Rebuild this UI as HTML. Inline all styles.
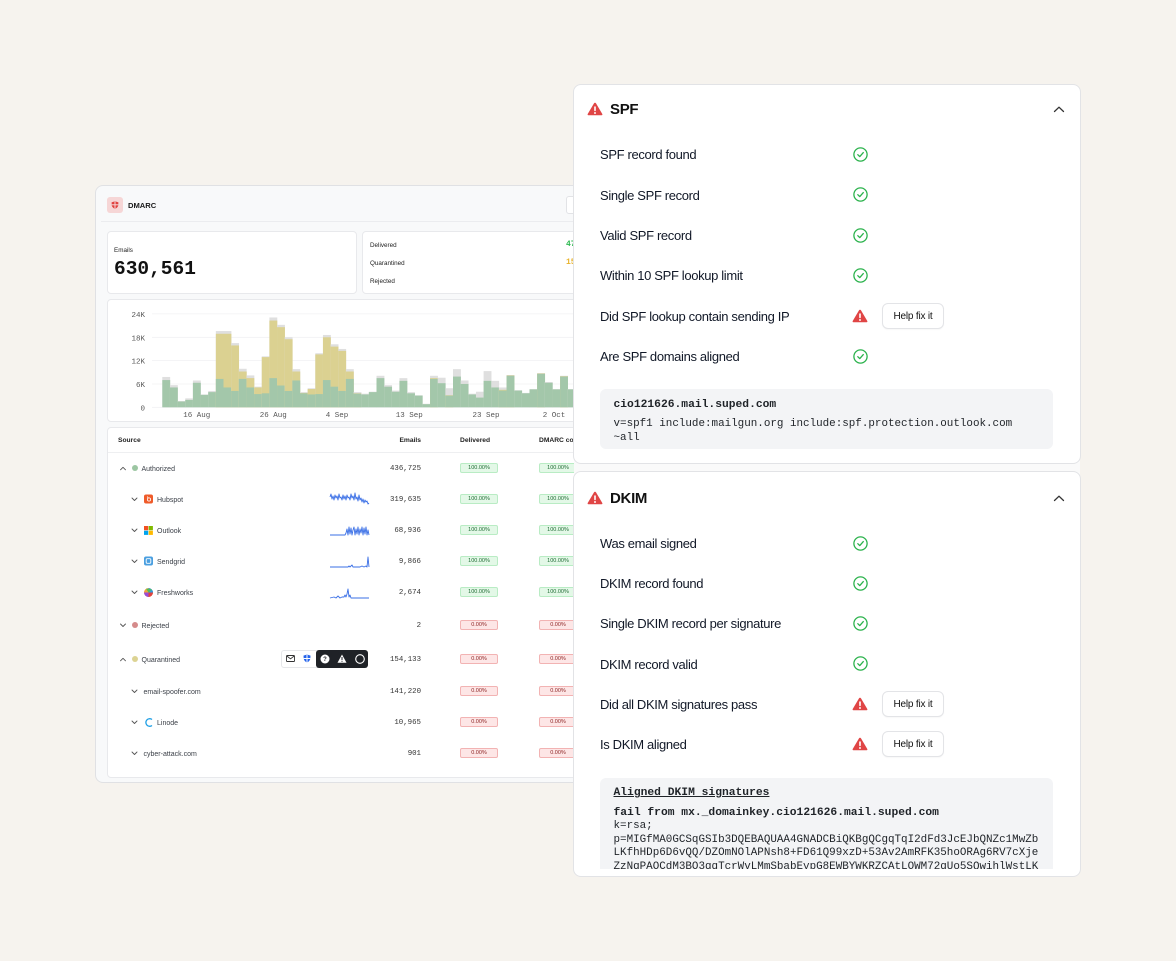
<!DOCTYPE html>
<html><head><meta charset="utf-8">
<style>
*{margin:0;padding:0;box-sizing:border-box}
html,body{width:1176px;height:961px;overflow:hidden;background:#f6f3ee}
body{font-family:"Liberation Sans",Arial,sans-serif;color:#111827}
#root{position:relative;width:1176px;height:961px;overflow:hidden;background:#f6f3ee}
.a{position:absolute}
.t{position:absolute;white-space:nowrap}
.card{position:absolute;background:#fff;border:1px solid #e8e9ec;border-radius:4px}
.lt{font-size:7px;line-height:10px;color:#3a3f47}
.num{font-family:"Liberation Mono",monospace;font-size:7.4px;line-height:10px;color:#333;text-align:right;width:80px}
.bg{position:absolute;width:38px;height:10px;border-radius:2px;font-size:5.5px;line-height:9px;text-align:center}
.bgG{background:#e3f8e7;border:1px solid #b9ecc4;color:#1f6b33}
.bgR{background:#fde6e6;border:1px solid #f2b3b3;color:#8a1f1f}
.dot{position:absolute;width:6px;height:6px;border-radius:50%}
.rt{font-size:13px;line-height:16px;letter-spacing:-0.35px;color:#111827}
.help{position:absolute;width:62px;height:26px;border:1px solid #e3e4e7;border-radius:6px;background:#fff;font-size:10px;line-height:24px;padding-top:1px;text-align:center;color:#111;letter-spacing:-0.2px;box-shadow:0 1px 1px rgba(0,0,0,0.03)}
.mono{font-family:"Liberation Mono",monospace;color:#1f2328}
.icn{position:absolute}
</style></head><body><div id="root">

<!-- LEFT PANEL -->
<div class="a" style="left:95px;top:185px;width:520px;height:598px;background:#f8f9fa;border:1px solid #e0e1e4;border-radius:8px"></div>
<div class="a" style="left:101px;top:221px;width:500px;height:1px;background:#ebecef"></div>
<div class="a" style="left:107px;top:197px;width:16px;height:16px;background:#f6d6d6;border-radius:3px"></div>
<svg class="icn" style="left:111px;top:201px" width="8" height="8" viewBox="0 0 8 8"><path d="M4 0.3 L7.4 1.4 L7.2 4.6 Q6.6 6.8 4 7.8 Q1.4 6.8 0.8 4.6 L0.6 1.4Z" fill="#e0403e"/><rect x="3.5" y="0.5" width="1" height="7" fill="#f6d6d6"/><rect x="0.6" y="3.3" width="6.8" height="1" fill="#f6d6d6"/></svg>
<div class="t" style="left:128px;top:201px;font-size:7.6px;line-height:10px;font-weight:bold;color:#1a1a1a">DMARC</div>
<div class="a" style="left:566px;top:196px;width:20px;height:18px;border:1px solid #e2e3e6;border-radius:3px;background:#fff"></div>

<!-- emails card -->
<div class="card" style="left:107px;top:231px;width:250px;height:63px"></div>
<div class="t" style="left:114px;top:246px;font-size:6.3px;line-height:9px;color:#222">Emails</div>
<div class="t mono" style="left:114px;top:258px;font-size:19.5px;line-height:22px;font-weight:bold;color:#111">630,561</div>

<!-- summary card -->
<div class="card" style="left:362px;top:231px;width:240px;height:63px"></div>
<div class="t" style="left:370px;top:240.5px;font-size:6.3px;line-height:9px;color:#222">Delivered</div>
<div class="t" style="left:370px;top:258.5px;font-size:6.3px;line-height:9px;color:#222">Quarantined</div>
<div class="t" style="left:370px;top:276.5px;font-size:6.3px;line-height:9px;color:#222">Rejected</div>
<div class="t" style="left:566px;top:239px;font-size:8px;line-height:11px;color:#2cb84f;font-family:'Liberation Mono',monospace;font-weight:bold">47.6%</div>
<div class="t" style="left:566px;top:257px;font-size:8px;line-height:11px;color:#e8b22a;font-family:'Liberation Mono',monospace;font-weight:bold">15.2%</div>

<!-- chart card -->
<div class="card" style="left:107px;top:299px;width:495px;height:123px"></div>
<svg class="a" style="left:0;top:0" width="600" height="430" viewBox="0 0 600 430">
<style>.gt{fill:#dfdfdf}.gy{fill:#dbd191}.gg{fill:#a3c7aa}.yl{font-family:"Liberation Mono",monospace;font-size:7.5px;fill:#555}</style>
<g stroke="#f1f1f3" stroke-width="0.8">
<line x1="152" y1="313.9" x2="600" y2="313.9"/><line x1="152" y1="337.3" x2="600" y2="337.3"/><line x1="152" y1="360.6" x2="600" y2="360.6"/><line x1="152" y1="384" x2="600" y2="384"/><line x1="152" y1="407.3" x2="600" y2="407.3"/>
</g>
<text class="yl" x="145" y="317" text-anchor="end">24K</text>
<text class="yl" x="145" y="340.4" text-anchor="end">18K</text>
<text class="yl" x="145" y="363.7" text-anchor="end">12K</text>
<text class="yl" x="145" y="387.1" text-anchor="end">6K</text>
<text class="yl" x="145" y="410.4" text-anchor="end">0</text>
<text class="yl" x="196.7" y="417" text-anchor="middle">16 Aug</text>
<text class="yl" x="273.3" y="417" text-anchor="middle">26 Aug</text>
<text class="yl" x="337" y="417" text-anchor="middle">4 Sep</text>
<text class="yl" x="409.3" y="417" text-anchor="middle">13 Sep</text>
<text class="yl" x="486" y="417" text-anchor="middle">23 Sep</text>
<text class="yl" x="554" y="417" text-anchor="middle">2 Oct</text>
<g transform="translate(162.3 407.3) scale(7.65 -3.89)">
<rect class="gt" x="0" y="0" width="1.03" height="7.8"/><rect class="gg" x="0" y="0" width="1.03" height="7.0"/>
<rect class="gt" x="1" y="0" width="1.03" height="5.7"/><rect class="gg" x="1" y="0" width="1.03" height="5.1"/>
<rect class="gt" x="2" y="0" width="1.03" height="1.6"/><rect class="gg" x="2" y="0" width="1.03" height="1.5"/>
<rect class="gt" x="3" y="0" width="1.03" height="2.3"/><rect class="gg" x="3" y="0" width="1.03" height="1.9"/>
<rect class="gt" x="4" y="0" width="1.03" height="6.9"/><rect class="gg" x="4" y="0" width="1.03" height="6.3"/>
<rect class="gt" x="5" y="0" width="1.03" height="3.3"/><rect class="gg" x="5" y="0" width="1.03" height="3.2"/>
<rect class="gt" x="6" y="0" width="1.03" height="4.2"/><rect class="gg" x="6" y="0" width="1.03" height="3.9"/>
<rect class="gt" x="7" y="0" width="1.03" height="19.6"/><rect class="gy" x="7" y="0" width="1.03" height="18.9"/><rect class="gg" x="7" y="0" width="1.03" height="7.3"/>
<rect class="gt" x="8" y="0" width="1.03" height="19.6"/><rect class="gy" x="8" y="0" width="1.03" height="18.9"/><rect class="gg" x="8" y="0" width="1.03" height="5.1"/>
<rect class="gt" x="9" y="0" width="1.03" height="16.5"/><rect class="gy" x="9" y="0" width="1.03" height="15.9"/><rect class="gg" x="9" y="0" width="1.03" height="4.2"/>
<rect class="gt" x="10" y="0" width="1.03" height="9.9"/><rect class="gy" x="10" y="0" width="1.03" height="9.2"/><rect class="gg" x="10" y="0" width="1.03" height="7.3"/>
<rect class="gt" x="11" y="0" width="1.03" height="8.2"/><rect class="gy" x="11" y="0" width="1.03" height="7.5"/><rect class="gg" x="11" y="0" width="1.03" height="5.1"/>
<rect class="gt" x="12" y="0" width="1.03" height="5.3"/><rect class="gy" x="12" y="0" width="1.03" height="5.1"/><rect class="gg" x="12" y="0" width="1.03" height="3.4"/>
<rect class="gt" x="13" y="0" width="1.03" height="13.1"/><rect class="gy" x="13" y="0" width="1.03" height="12.9"/><rect class="gg" x="13" y="0" width="1.03" height="3.6"/>
<rect class="gt" x="14" y="0" width="1.03" height="23.1"/><rect class="gy" x="14" y="0" width="1.03" height="22.3"/><rect class="gg" x="14" y="0" width="1.03" height="7.5"/>
<rect class="gt" x="15" y="0" width="1.03" height="21.2"/><rect class="gy" x="15" y="0" width="1.03" height="20.6"/><rect class="gg" x="15" y="0" width="1.03" height="5.6"/>
<rect class="gt" x="16" y="0" width="1.03" height="18.0"/><rect class="gy" x="16" y="0" width="1.03" height="17.5"/><rect class="gg" x="16" y="0" width="1.03" height="4.2"/>
<rect class="gt" x="17" y="0" width="1.03" height="9.8"/><rect class="gy" x="17" y="0" width="1.03" height="9.2"/><rect class="gg" x="17" y="0" width="1.03" height="6.9"/>
<rect class="gt" x="18" y="0" width="1.03" height="3.9"/><rect class="gy" x="18" y="0" width="1.03" height="3.7"/><rect class="gg" x="18" y="0" width="1.03" height="3.6"/>
<rect class="gt" x="19" y="0" width="1.03" height="4.9"/><rect class="gy" x="19" y="0" width="1.03" height="4.7"/><rect class="gg" x="19" y="0" width="1.03" height="3.3"/>
<rect class="gt" x="20" y="0" width="1.03" height="13.9"/><rect class="gy" x="20" y="0" width="1.03" height="13.6"/><rect class="gg" x="20" y="0" width="1.03" height="3.4"/>
<rect class="gt" x="21" y="0" width="1.03" height="18.6"/><rect class="gy" x="21" y="0" width="1.03" height="18.0"/><rect class="gg" x="21" y="0" width="1.03" height="7.0"/>
<rect class="gt" x="22" y="0" width="1.03" height="16.2"/><rect class="gy" x="22" y="0" width="1.03" height="15.6"/><rect class="gg" x="22" y="0" width="1.03" height="5.3"/>
<rect class="gt" x="23" y="0" width="1.03" height="15.0"/><rect class="gy" x="23" y="0" width="1.03" height="14.5"/><rect class="gg" x="23" y="0" width="1.03" height="4.2"/>
<rect class="gt" x="24" y="0" width="1.03" height="9.8"/><rect class="gy" x="24" y="0" width="1.03" height="9.2"/><rect class="gg" x="24" y="0" width="1.03" height="7.3"/>
<rect class="gt" x="25" y="0" width="1.03" height="3.9"/><rect class="gy" x="25" y="0" width="1.03" height="3.6"/><rect class="gg" x="25" y="0" width="1.03" height="3.5"/>
<rect class="gt" x="26" y="0" width="1.03" height="3.5"/><rect class="gg" x="26" y="0" width="1.03" height="3.3"/>
<rect class="gt" x="27" y="0" width="1.03" height="4.0"/><rect class="gg" x="27" y="0" width="1.03" height="3.9"/>
<rect class="gt" x="28" y="0" width="1.03" height="8.1"/><rect class="gg" x="28" y="0" width="1.03" height="7.5"/>
<rect class="gt" x="29" y="0" width="1.03" height="5.7"/><rect class="gg" x="29" y="0" width="1.03" height="5.3"/>
<rect class="gt" x="30" y="0" width="1.03" height="4.3"/><rect class="gg" x="30" y="0" width="1.03" height="4.0"/>
<rect class="gt" x="31" y="0" width="1.03" height="7.5"/><rect class="gg" x="31" y="0" width="1.03" height="6.8"/>
<rect class="gt" x="32" y="0" width="1.03" height="3.9"/><rect class="gg" x="32" y="0" width="1.03" height="3.6"/>
<rect class="gt" x="33" y="0" width="1.03" height="3.1"/><rect class="gg" x="33" y="0" width="1.03" height="3.0"/>
<rect class="gt" x="34" y="0" width="1.03" height="0.9"/><rect class="gg" x="34" y="0" width="1.03" height="0.8"/>
<rect class="gt" x="35" y="0" width="1.03" height="8.1"/><rect class="gy" x="35" y="0" width="1.03" height="7.5"/><rect class="gg" x="35" y="0" width="1.03" height="7.3"/>
<rect class="gt" x="36" y="0" width="1.03" height="7.6"/><rect class="gg" x="36" y="0" width="1.03" height="6.2"/>
<rect class="gt" x="37" y="0" width="1.03" height="4.9"/><rect class="gy" x="37" y="0" width="1.03" height="3.1"/><rect class="gg" x="37" y="0" width="1.03" height="3.0"/>
<rect class="gt" x="38" y="0" width="1.03" height="9.8"/><rect class="gg" x="38" y="0" width="1.03" height="7.9"/>
<rect class="gt" x="39" y="0" width="1.03" height="6.9"/><rect class="gg" x="39" y="0" width="1.03" height="6.0"/>
<rect class="gt" x="40" y="0" width="1.03" height="3.5"/><rect class="gg" x="40" y="0" width="1.03" height="3.3"/>
<rect class="gt" x="41" y="0" width="1.03" height="4.0"/><rect class="gg" x="41" y="0" width="1.03" height="2.5"/>
<rect class="gt" x="42" y="0" width="1.03" height="9.3"/><rect class="gg" x="42" y="0" width="1.03" height="6.8"/>
<rect class="gt" x="43" y="0" width="1.03" height="6.8"/><rect class="gg" x="43" y="0" width="1.03" height="5.1"/>
<rect class="gt" x="44" y="0" width="1.03" height="5.1"/><rect class="gy" x="44" y="0" width="1.03" height="4.5"/><rect class="gg" x="44" y="0" width="1.03" height="4.3"/>
<rect class="gt" x="45" y="0" width="1.03" height="8.3"/><rect class="gy" x="45" y="0" width="1.03" height="8.2"/><rect class="gg" x="45" y="0" width="1.03" height="8.1"/>
<rect class="gt" x="46" y="0" width="1.03" height="4.4"/><rect class="gg" x="46" y="0" width="1.03" height="4.3"/>
<rect class="gt" x="47" y="0" width="1.03" height="3.7"/><rect class="gg" x="47" y="0" width="1.03" height="3.6"/>
<rect class="gt" x="48" y="0" width="1.03" height="4.7"/><rect class="gg" x="48" y="0" width="1.03" height="4.6"/>
<rect class="gt" x="49" y="0" width="1.03" height="8.8"/><rect class="gy" x="49" y="0" width="1.03" height="8.7"/><rect class="gg" x="49" y="0" width="1.03" height="8.6"/>
<rect class="gt" x="50" y="0" width="1.03" height="6.5"/><rect class="gg" x="50" y="0" width="1.03" height="6.3"/>
<rect class="gt" x="51" y="0" width="1.03" height="4.7"/><rect class="gg" x="51" y="0" width="1.03" height="4.6"/>
<rect class="gt" x="52" y="0" width="1.03" height="8.1"/><rect class="gy" x="52" y="0" width="1.03" height="8.0"/><rect class="gg" x="52" y="0" width="1.03" height="7.9"/>
<rect class="gt" x="53" y="0" width="1.03" height="4.7"/><rect class="gg" x="53" y="0" width="1.03" height="4.6"/>
<rect class="gt" x="54" y="0" width="1.03" height="5.0"/><rect class="gg" x="54" y="0" width="1.03" height="4.8"/>
</g>
</svg>

<!-- table card -->
<div class="card" style="left:107px;top:427px;width:495px;height:351px"></div>
<div class="t" style="left:118px;top:436px;font-size:6.7px;line-height:10px;font-weight:bold;color:#222">Source</div>
<div class="t" style="left:341px;top:436px;width:80px;text-align:right;font-size:6.7px;line-height:10px;font-weight:bold;color:#222">Emails</div>
<div class="t" style="left:460px;top:436px;font-size:6.7px;line-height:10px;font-weight:bold;color:#222">Delivered</div>
<div class="t" style="left:539px;top:436px;font-size:6.7px;line-height:10px;font-weight:bold;color:#222">DMARC compliant</div>
<div class="a" style="left:108px;top:452px;width:494px;height:1px;background:#eeeff1"></div>

<!-- chevrons & rows -->
<svg class="a" style="left:0;top:0" width="600" height="790" viewBox="0 0 600 790">
<g fill="none" stroke="#555" stroke-width="0.9" stroke-linecap="round" stroke-linejoin="round">
<polyline points="120.5,469.8 123,467.3 125.5,469.8"/>
<polyline points="132,498 134.5,500.5 137,498"/>
<polyline points="132,529 134.5,531.5 137,529"/>
<polyline points="132,560 134.5,562.5 137,560"/>
<polyline points="132,591 134.5,593.5 137,591"/>
<polyline points="120.5,624 123,626.5 125.5,624"/>
<polyline points="120.5,660.8 123,658.3 125.5,660.8"/>
<polyline points="132,690 134.5,692.5 137,690"/>
<polyline points="132,721 134.5,723.5 137,721"/>
<polyline points="132,752 134.5,754.5 137,752"/>
</g>
<g fill="none" stroke="#3a6fe6" stroke-width="0.9" stroke-linejoin="round">
<polyline points="330,497 331,494 332,499 333,496 334,500 335,495 336,498 337,496 338,500 339,494 340,498 341,497 342,500 343,495 344,499 345,496 346,500 347,495 348,498 349,497 350,500 351,494 352,498 353,496 354,500 355,493 356,499 357,497 358,501 359,495 360,500 361,498 362,502 363,499 364,503 365,500 366,502 367,501 368,504 369,503"/>
<polyline points="330,535 345,535 346,533 347,529 348,535 349,527 350,534 351,528 352,535 353,530 354,527 355,535 356,529 357,534 358,527 359,535 360,529 361,533 362,527 363,535 364,528 365,534 366,527 367,535 368,530 369,535"/>
<polyline points="330,567 348,567 349,566 350,567 352,565 353,567 360,567 362,566 364,567 366,566 367,567 368,557 369,567"/>
<polyline points="330,598 334,597 336,598 338,596 340,598 342,597 344,597 345,595 346,597 347,594 348,589 349,597 350,595 351,598 369,598"/>
</g>
<!-- hubspot -->
<rect x="144" y="494.5" width="9" height="9" rx="2" fill="#ef5b2a"/>
<circle cx="149" cy="499.5" r="1.6" fill="none" stroke="#fff" stroke-width="0.8"/><line x1="147.3" y1="496.5" x2="148.3" y2="498.3" stroke="#fff" stroke-width="0.8"/>
<!-- outlook -->
<rect x="144" y="526" width="4.2" height="4.2" fill="#f25022"/><rect x="148.7" y="526" width="4.2" height="4.2" fill="#7fba00"/><rect x="144" y="530.7" width="4.2" height="4.2" fill="#00a4ef"/><rect x="148.7" y="530.7" width="4.2" height="4.2" fill="#ffb900"/>
<!-- sendgrid -->
<rect x="144" y="556.5" width="9" height="9" rx="2" fill="#4a9fe0"/><rect x="146.2" y="558.7" width="4.6" height="4.6" rx="1" fill="none" stroke="#fff" stroke-width="0.9"/>
<!-- freshworks -->
<circle cx="148.5" cy="592.5" r="4.5" fill="#f0a33a"/><path d="M148.5 592.5 L148.5 588 A4.5 4.5 0 0 1 153 592.5Z" fill="#2f9be0"/><path d="M148.5 592.5 L144 592.5 A4.5 4.5 0 0 0 148.5 597Z" fill="#9a4bd6"/><path d="M148.5 592.5 L153 592.5 A4.5 4.5 0 0 1 148.5 597Z" fill="#e2433f"/><path d="M148.5 592.5 L146 588.5 L152 589.5Z" fill="#4cbf5a"/>
<!-- linode -->
<path d="M152 719.5 A3.8 3.8 0 1 0 152 725.5" fill="none" stroke="#1f9fe5" stroke-width="1.3"/>
</svg>

<div class="dot" style="left:131.7px;top:465px;background:#9cc6a2"></div>
<div class="dot" style="left:131.7px;top:622px;background:#d58b8b"></div>
<div class="dot" style="left:131.7px;top:656px;background:#dcd393"></div>

<div class="t lt" style="left:141.5px;top:464.5px">Authorized</div>
<div class="t lt" style="left:157px;top:495.5px">Hubspot</div>
<div class="t lt" style="left:157px;top:526.5px">Outlook</div>
<div class="t lt" style="left:157px;top:557.5px">Sendgrid</div>
<div class="t lt" style="left:157px;top:588.5px">Freshworks</div>
<div class="t lt" style="left:141.5px;top:621.5px">Rejected</div>
<div class="t lt" style="left:141.5px;top:655.5px">Quarantined</div>
<div class="t lt" style="left:143.5px;top:687.5px">email-spoofer.com</div>
<div class="t lt" style="left:157px;top:718.5px">Linode</div>
<div class="t lt" style="left:143.5px;top:749.5px">cyber-attack.com</div>

<div class="t num" style="left:341px;top:464px">436,725</div>
<div class="t num" style="left:341px;top:495px">319,635</div>
<div class="t num" style="left:341px;top:526px">68,936</div>
<div class="t num" style="left:341px;top:557px">9,866</div>
<div class="t num" style="left:341px;top:588px">2,674</div>
<div class="t num" style="left:341px;top:621px">2</div>
<div class="t num" style="left:341px;top:655px">154,133</div>
<div class="t num" style="left:341px;top:687px">141,220</div>
<div class="t num" style="left:341px;top:718px">10,965</div>
<div class="t num" style="left:341px;top:749px">901</div>

<div class="bg bgG" style="left:460px;top:463px">100.00%</div><div class="bg bgG" style="left:539px;top:463px">100.00%</div>
<div class="bg bgG" style="left:460px;top:494px">100.00%</div><div class="bg bgG" style="left:539px;top:494px">100.00%</div>
<div class="bg bgG" style="left:460px;top:525px">100.00%</div><div class="bg bgG" style="left:539px;top:525px">100.00%</div>
<div class="bg bgG" style="left:460px;top:556px">100.00%</div><div class="bg bgG" style="left:539px;top:556px">100.00%</div>
<div class="bg bgG" style="left:460px;top:587px">100.00%</div><div class="bg bgG" style="left:539px;top:587px">100.00%</div>
<div class="bg bgR" style="left:460px;top:620px">0.00%</div><div class="bg bgR" style="left:539px;top:620px">0.00%</div>
<div class="bg bgR" style="left:460px;top:654px">0.00%</div><div class="bg bgR" style="left:539px;top:654px">0.00%</div>
<div class="bg bgR" style="left:460px;top:686px">0.00%</div><div class="bg bgR" style="left:539px;top:686px">0.00%</div>
<div class="bg bgR" style="left:460px;top:717px">0.00%</div><div class="bg bgR" style="left:539px;top:717px">0.00%</div>
<div class="bg bgR" style="left:460px;top:748px">0.00%</div><div class="bg bgR" style="left:539px;top:748px">0.00%</div>

<!-- toolbar -->
<div class="a" style="left:281px;top:650px;width:40px;height:18px;background:#fff;border:1px solid #e6e7ea;border-radius:3px"></div>
<div class="a" style="left:316px;top:650px;width:52px;height:18px;background:#1f2227;border-radius:3px"></div>
<svg class="a" style="left:281px;top:650px" width="88" height="18" viewBox="0 0 88 18">
<rect x="5.5" y="5.5" width="8" height="6" rx="0.8" fill="none" stroke="#333" stroke-width="0.9"/><polyline points="5.8,6 9.5,8.8 13.2,6" fill="none" stroke="#333" stroke-width="0.9"/>
<path d="M26 4.5 L29.5 5.6 L29.3 8.8 Q28.7 11.3 26 12.6 Q23.3 11.3 22.7 8.8 L22.5 5.6Z" fill="#2563eb"/><rect x="25.5" y="4.7" width="1" height="8" fill="#fff"/><rect x="22.6" y="8" width="6.8" height="1" fill="#fff"/>
<circle cx="44" cy="9" r="4.5" fill="#fff"/><text x="44" y="11" font-size="6" text-anchor="middle" font-family="Liberation Sans" font-weight="bold" fill="#1f2227">?</text>
<path d="M61 4.5 L65.5 12.8 L56.5 12.8Z" fill="#fff"/><rect x="60.5" y="7" width="1" height="3" fill="#1f2227"/><rect x="60.5" y="10.8" width="1" height="1" fill="#1f2227"/>
<circle cx="79" cy="9" r="4.3" fill="none" stroke="#fff" stroke-width="1.1"/>
</svg>

<!-- RIGHT PANEL -->
<div class="a" style="left:574px;top:90px;width:506px;height:780px;background:#fafafa"></div>
<div class="a" style="left:573px;top:84px;width:508px;height:380px;background:#fff;border:1px solid #e2e3e6;border-radius:8px"></div>
<div class="a" style="left:573px;top:471px;width:508px;height:406px;background:#fff;border:1px solid #e2e3e6;border-radius:8px"></div>

<!-- SPF header -->
<svg class="icn" style="left:587px;top:101.5px" width="16" height="14" viewBox="0 0 16 14"><path d="M8 0.8 Q8.7 0.8 9.1 1.5 L15.3 12 Q15.7 13.2 14.6 13.2 L1.4 13.2 Q0.3 13.2 0.7 12 L6.9 1.5 Q7.3 0.8 8 0.8Z" fill="#e04545"/><rect x="7.2" y="4.2" width="1.6" height="5" rx="0.8" fill="#fff"/><circle cx="8" cy="11" r="0.95" fill="#fff"/></svg>
<div class="t" style="left:610px;top:100.5px;font-size:15px;line-height:18px;font-weight:bold;letter-spacing:-0.3px;color:#111">SPF</div>
<svg class="icn" style="left:1053px;top:105.5px" width="12" height="7" viewBox="0 0 12 7"><polyline points="1.5,5.5 6,1.2 10.5,5.5" fill="none" stroke="#333" stroke-width="1.3" stroke-linecap="round" stroke-linejoin="round"/></svg>

<div class="t rt" style="left:600px;top:147px">SPF record found</div>
<div class="t rt" style="left:600px;top:187.5px">Single SPF record</div>
<div class="t rt" style="left:600px;top:228px">Valid SPF record</div>
<div class="t rt" style="left:600px;top:268px">Within 10 SPF lookup limit</div>
<div class="t rt" style="left:600px;top:308.5px">Did SPF lookup contain sending IP</div>
<div class="t rt" style="left:600px;top:349px">Are SPF domains aligned</div>

<svg class="icn" style="left:852.5px;top:146.5px" width="15" height="15" viewBox="0 0 15 15"><circle cx="7.5" cy="7.5" r="6.6" fill="none" stroke="#2bb24c" stroke-width="1.3"/><path d="M4.8 7.7 L6.8 9.6 L10.3 5.6" fill="none" stroke="#2bb24c" stroke-width="1.3" stroke-linecap="round" stroke-linejoin="round"/></svg>
<svg class="icn" style="left:852.5px;top:187px" width="15" height="15" viewBox="0 0 15 15"><circle cx="7.5" cy="7.5" r="6.6" fill="none" stroke="#2bb24c" stroke-width="1.3"/><path d="M4.8 7.7 L6.8 9.6 L10.3 5.6" fill="none" stroke="#2bb24c" stroke-width="1.3" stroke-linecap="round" stroke-linejoin="round"/></svg>
<svg class="icn" style="left:852.5px;top:227.5px" width="15" height="15" viewBox="0 0 15 15"><circle cx="7.5" cy="7.5" r="6.6" fill="none" stroke="#2bb24c" stroke-width="1.3"/><path d="M4.8 7.7 L6.8 9.6 L10.3 5.6" fill="none" stroke="#2bb24c" stroke-width="1.3" stroke-linecap="round" stroke-linejoin="round"/></svg>
<svg class="icn" style="left:852.5px;top:267.5px" width="15" height="15" viewBox="0 0 15 15"><circle cx="7.5" cy="7.5" r="6.6" fill="none" stroke="#2bb24c" stroke-width="1.3"/><path d="M4.8 7.7 L6.8 9.6 L10.3 5.6" fill="none" stroke="#2bb24c" stroke-width="1.3" stroke-linecap="round" stroke-linejoin="round"/></svg>
<svg class="icn" style="left:852px;top:308.5px" width="16" height="14" viewBox="0 0 16 14"><path d="M8 0.8 Q8.7 0.8 9.1 1.5 L15.3 12 Q15.7 13.2 14.6 13.2 L1.4 13.2 Q0.3 13.2 0.7 12 L6.9 1.5 Q7.3 0.8 8 0.8Z" fill="#e04545"/><rect x="7.2" y="4.2" width="1.6" height="5" rx="0.8" fill="#fff"/><circle cx="8" cy="11" r="0.95" fill="#fff"/></svg>
<div class="help" style="left:882px;top:302.5px">Help fix it</div>
<svg class="icn" style="left:852.5px;top:348.5px" width="15" height="15" viewBox="0 0 15 15"><circle cx="7.5" cy="7.5" r="6.6" fill="none" stroke="#2bb24c" stroke-width="1.3"/><path d="M4.8 7.7 L6.8 9.6 L10.3 5.6" fill="none" stroke="#2bb24c" stroke-width="1.3" stroke-linecap="round" stroke-linejoin="round"/></svg>

<div class="a" style="left:600px;top:389px;width:453px;height:60px;background:#f3f4f6;border-radius:6px"></div>
<div class="t mono" style="left:613.5px;top:397.5px;font-size:11.3px;line-height:14px;font-weight:bold">cio121626.mail.suped.com</div>
<div class="t mono" style="left:613.5px;top:418px;font-size:10.9px;line-height:13px">v=spf1 include:mailgun.org include:spf.protection.outlook.com</div>
<div class="t mono" style="left:613.5px;top:431.5px;font-size:10.9px;line-height:13px">~all</div>

<!-- DKIM header -->
<svg class="icn" style="left:587px;top:490.5px" width="16" height="14" viewBox="0 0 16 14"><path d="M8 0.8 Q8.7 0.8 9.1 1.5 L15.3 12 Q15.7 13.2 14.6 13.2 L1.4 13.2 Q0.3 13.2 0.7 12 L6.9 1.5 Q7.3 0.8 8 0.8Z" fill="#e04545"/><rect x="7.2" y="4.2" width="1.6" height="5" rx="0.8" fill="#fff"/><circle cx="8" cy="11" r="0.95" fill="#fff"/></svg>
<div class="t" style="left:610px;top:489.5px;font-size:15px;line-height:18px;font-weight:bold;letter-spacing:-0.3px;color:#111">DKIM</div>
<svg class="icn" style="left:1053px;top:494.5px" width="12" height="7" viewBox="0 0 12 7"><polyline points="1.5,5.5 6,1.2 10.5,5.5" fill="none" stroke="#333" stroke-width="1.3" stroke-linecap="round" stroke-linejoin="round"/></svg>

<div class="t rt" style="left:600px;top:536px">Was email signed</div>
<div class="t rt" style="left:600px;top:576px">DKIM record found</div>
<div class="t rt" style="left:600px;top:616px">Single DKIM record per signature</div>
<div class="t rt" style="left:600px;top:656.5px">DKIM record valid</div>
<div class="t rt" style="left:600px;top:697px">Did all DKIM signatures pass</div>
<div class="t rt" style="left:600px;top:737px">Is DKIM aligned</div>

<svg class="icn" style="left:852.5px;top:535.5px" width="15" height="15" viewBox="0 0 15 15"><circle cx="7.5" cy="7.5" r="6.6" fill="none" stroke="#2bb24c" stroke-width="1.3"/><path d="M4.8 7.7 L6.8 9.6 L10.3 5.6" fill="none" stroke="#2bb24c" stroke-width="1.3" stroke-linecap="round" stroke-linejoin="round"/></svg>
<svg class="icn" style="left:852.5px;top:575.5px" width="15" height="15" viewBox="0 0 15 15"><circle cx="7.5" cy="7.5" r="6.6" fill="none" stroke="#2bb24c" stroke-width="1.3"/><path d="M4.8 7.7 L6.8 9.6 L10.3 5.6" fill="none" stroke="#2bb24c" stroke-width="1.3" stroke-linecap="round" stroke-linejoin="round"/></svg>
<svg class="icn" style="left:852.5px;top:615.5px" width="15" height="15" viewBox="0 0 15 15"><circle cx="7.5" cy="7.5" r="6.6" fill="none" stroke="#2bb24c" stroke-width="1.3"/><path d="M4.8 7.7 L6.8 9.6 L10.3 5.6" fill="none" stroke="#2bb24c" stroke-width="1.3" stroke-linecap="round" stroke-linejoin="round"/></svg>
<svg class="icn" style="left:852.5px;top:656px" width="15" height="15" viewBox="0 0 15 15"><circle cx="7.5" cy="7.5" r="6.6" fill="none" stroke="#2bb24c" stroke-width="1.3"/><path d="M4.8 7.7 L6.8 9.6 L10.3 5.6" fill="none" stroke="#2bb24c" stroke-width="1.3" stroke-linecap="round" stroke-linejoin="round"/></svg>
<svg class="icn" style="left:852px;top:697px" width="16" height="14" viewBox="0 0 16 14"><path d="M8 0.8 Q8.7 0.8 9.1 1.5 L15.3 12 Q15.7 13.2 14.6 13.2 L1.4 13.2 Q0.3 13.2 0.7 12 L6.9 1.5 Q7.3 0.8 8 0.8Z" fill="#e04545"/><rect x="7.2" y="4.2" width="1.6" height="5" rx="0.8" fill="#fff"/><circle cx="8" cy="11" r="0.95" fill="#fff"/></svg>
<div class="help" style="left:882px;top:691px">Help fix it</div>
<svg class="icn" style="left:852px;top:737px" width="16" height="14" viewBox="0 0 16 14"><path d="M8 0.8 Q8.7 0.8 9.1 1.5 L15.3 12 Q15.7 13.2 14.6 13.2 L1.4 13.2 Q0.3 13.2 0.7 12 L6.9 1.5 Q7.3 0.8 8 0.8Z" fill="#e04545"/><rect x="7.2" y="4.2" width="1.6" height="5" rx="0.8" fill="#fff"/><circle cx="8" cy="11" r="0.95" fill="#fff"/></svg>
<div class="help" style="left:882px;top:731px">Help fix it</div>

<div class="a" style="left:600px;top:778px;width:453px;height:91px;background:#f3f4f6;border-radius:6px 6px 0 0;overflow:hidden">
<div class="t mono" style="left:13.5px;top:8px;font-size:11.3px;line-height:14px;font-weight:bold;text-decoration:underline">Aligned DKIM signatures</div>
<div class="t mono" style="left:13.5px;top:28px;font-size:11.3px;line-height:14px;font-weight:bold">fail from mx._domainkey.cio121626.mail.suped.com</div>
<div class="t mono" style="left:13.5px;top:42px;font-size:10.9px;line-height:13.5px">k=rsa;<br>p=MIGfMA0GCSqGSIb3DQEBAQUAA4GNADCBiQKBgQCgqTqI2dFd3JcEJbQNZc1MwZb<br>LKfhHDp6D6vQQ/DZOmNOlAPNsh8+FD61Q99xzD+53Av2AmRFK35hoORAg6RV7cXje<br>ZzNqPAOCdM3BO3qqTcrWvLMmSbabEypG8EWBYWKRZCAtLOWM72qUo5SQwihlWstLK</div>
</div>

</div></body></html>
